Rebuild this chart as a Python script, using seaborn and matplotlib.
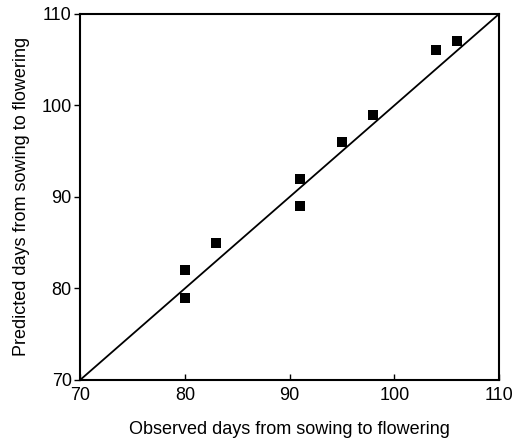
import matplotlib
matplotlib.use("Agg")
import matplotlib.pyplot as plt
import seaborn as sns
import pandas as pd

observed = [80, 80, 83, 91, 91, 95, 98, 104, 106]
predicted = [82, 79, 85, 92, 89, 96, 99, 106, 107]
line_x = [70, 110]
line_y = [70, 110]
ticks = [70, 80, 90, 100, 110]

sns.set_theme(style="white")
plt.rcParams['font.family'] = ['Liberation Sans', 'DejaVu Sans']

df = pd.DataFrame({"Observed": observed, "Predicted": predicted})

fig = plt.figure(figsize=(5.2, 4.46), dpi=100)
ax = fig.add_axes([0.154, 0.148, 0.806, 0.821])

sns.lineplot(x=line_x, y=line_y, ax=ax, color="black", linewidth=1.3)
sns.scatterplot(data=df, x="Observed", y="Predicted", ax=ax, marker="s",
                color="black", s=60, edgecolor="black", linewidth=0)

ax.set_xlim(70, 110)
ax.set_ylim(70, 110)
ax.set_xticks(ticks)
ax.set_yticks(ticks)
ax.set_xticklabels([str(t) for t in ticks], fontsize=13, color="black")
ax.set_yticklabels([str(t) for t in ticks], fontsize=13, color="black")
ax.tick_params(axis="x", direction="in", length=4, width=1, color="black", pad=5, bottom=True)
ax.tick_params(axis="y", direction="out", length=4, width=1, color="black", pad=2, left=True)
for sp in ax.spines.values():
    sp.set_color("black")
    sp.set_linewidth(1.5)

ax.set_xlabel("Observed days from sowing to flowering", fontsize=13, labelpad=12, color="black")
ax.set_ylabel("Predicted days from sowing to flowering", fontsize=13, labelpad=8, color="black")

fig.savefig("out.png", dpi=100)
